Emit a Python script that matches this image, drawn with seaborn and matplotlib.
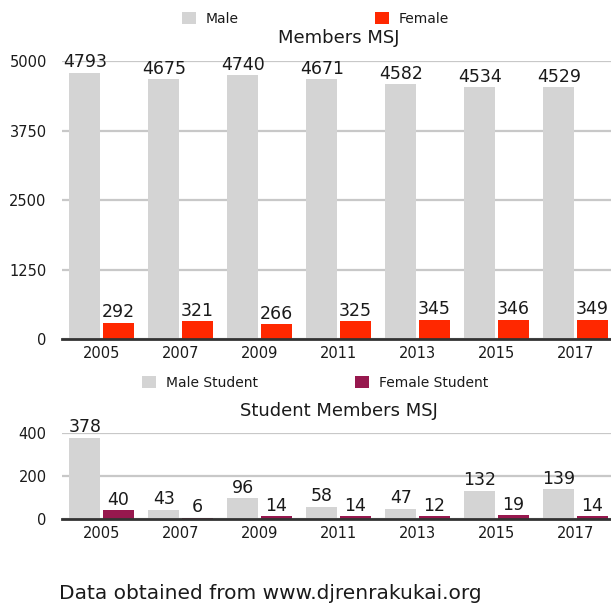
import matplotlib
matplotlib.use("Agg")
import matplotlib.pyplot as plt
import seaborn as sns
import pandas as pd

# data
years = ["2005", "2007", "2009", "2011", "2013", "2015", "2017"]
male = [4793, 4675, 4740, 4671, 4582, 4534, 4529]
female = [292, 321, 266, 325, 345, 346, 349]
male_student = [378, 43, 96, 58, 47, 132, 139]
female_student = [40, 6, 14, 14, 12, 19, 14]

sns.set_theme(style="white")
plt.rcParams['font.family'] = ['DejaVu Sans']

gray = "#d4d4d4"
red = "#ff2800"
maroon = "#97184e"
txt = "#1a1a1a"

df_top = pd.DataFrame({"year": years * 2,
                       "count": male + female,
                       "sex": ["Male"] * 7 + ["Female"] * 7})
df_bot = pd.DataFrame({"year": years * 2,
                       "count": male_student + female_student,
                       "sex": ["Male Student"] * 7 + ["Female Student"] * 7})

fig = plt.figure(figsize=(6.11, 6.06), dpi=100)
# axes run a little past the right edge, like the original
ax1 = fig.add_axes([0.1015, 0.4406, 0.905, 0.4587])
ax2 = fig.add_axes([0.1015, 0.1436, 0.905, 0.1419])


def draw(ax, df, colors, ticks, ylim, title, leg_y, colspace, tpad):
    sns.barplot(data=df, x="year", y="count", hue="sex", palette=colors,
                width=0.85, gap=0.07, ax=ax, saturation=1,
                linewidth=0, edgecolor="none")
    for c in ax.containers:
        ax.bar_label(c, fontsize=12.5, padding=1, color=txt)
    ax.set_ylim(*ylim)
    ax.set_yticks(ticks)
    ax.set_xlim(-0.5, 6.5)
    ax.set_xlabel("")
    ax.set_ylabel("")
    ax.grid(axis="y", color="#c8c8c8", linewidth=1.6)
    ax.set_axisbelow(True)
    for s in ["top", "right", "left"]:
        ax.spines[s].set_visible(False)
    ax.spines["bottom"].set_color("#333333")
    ax.spines["bottom"].set_linewidth(2)
    ax.tick_params(axis="both", length=0, labelsize=10.5, colors=txt)
    ax.tick_params(axis="y", pad=11)
    ax.tick_params(axis="x", pad=5)
    ax.set_title(title, fontsize=13, pad=tpad, color=txt)
    sns.move_legend(ax, "center", bbox_to_anchor=(0.516, leg_y),
                    bbox_transform=fig.transFigure, ncol=2,
                    title=None, frameon=False, fontsize=10,
                    handlelength=1.0, handleheight=1.0, handletextpad=0.7,
                    columnspacing=colspace)
    leg = ax.get_legend()
    for h in leg.legend_handles:
        h.set_linewidth(0)
        h.set_edgecolor("none")
    for t in leg.get_texts():
        t.set_color(txt)


draw(ax1, df_top, [gray, red], [0, 1250, 2500, 3750, 5000], (0, 5000),
     "Members MSJ", 0.969, 9.8, 13)
draw(ax2, df_bot, [gray, maroon], [0, 200, 400], (0, 400),
     "Student Members MSJ", 0.368, 7.0, 12)

fig.text(0.097, 0.0116, "Data obtained from www.djrenrakukai.org",
         fontsize=14.5, color=txt, va="baseline")

fig.savefig("out.png", dpi=100)
